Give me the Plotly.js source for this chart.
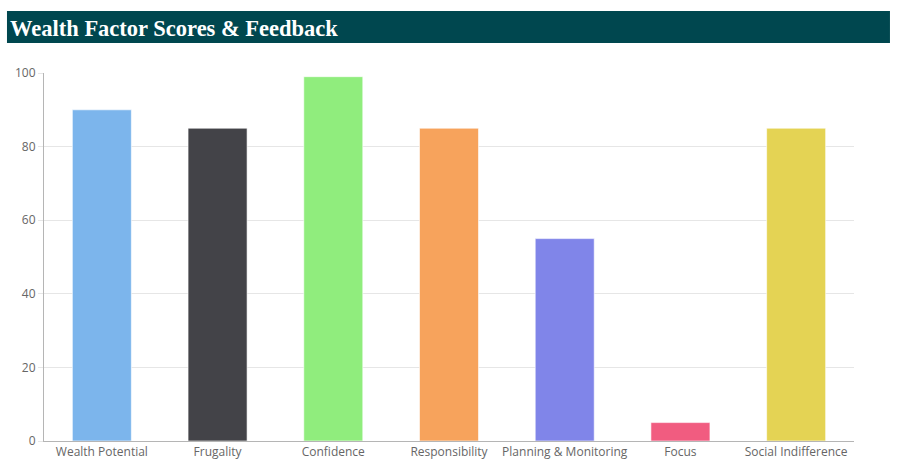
<!DOCTYPE html>
<html>
<head>
<meta charset="utf-8">
<script src="https://cdn.plot.ly/plotly-3.0.1.min.js"></script>
<style>html,body{margin:0;padding:0;background:#fff;}#chart{width:899px;height:467px;}</style>
</head>
<body>
<div id="chart"></div>
<script>
const categories = ["Wealth Potential", "Frugality", "Confidence", "Responsibility", "Planning & Monitoring", "Focus", "Social Indifference"];
const scores = [90, 85, 99, 85, 55, 5, 85];
const barColors = ["#7CB5EC", "#434348", "#90ED7D", "#F7A35C", "#8085E9", "#F15C80", "#E4D354"];
const yTicks = [0, 20, 40, 60, 80, 100];
const titleText = "Wealth Factor Scores & Feedback";

const trace = {
  type: "bar",
  x: categories,
  y: scores,
  marker: {color: barColors, line: {color: "rgba(255,255,255,0.6)", width: 1}},
  hoverinfo: "x+y"
};

const layout = {
  width: 899, height: 467,
  margin: {l: 44, r: 45, t: 73, b: 26, pad: 0},
  paper_bgcolor: "#fff", plot_bgcolor: "#fff",
  showlegend: false,
  bargap: 0.49,
  font: {family: "Open Sans, sans-serif", size: 12, color: "#666"},
  xaxis: {
    type: "category",
    showline: true, linecolor: "#b5b5b5", linewidth: 1,
    showgrid: false, ticks: "", tickfont: {size: 12, color: "#666"},
    fixedrange: true
  },
  yaxis: {
    range: [0, 100], tickvals: yTicks,
    showline: true, linecolor: "#b5b5b5", linewidth: 1,
    showgrid: true, gridcolor: "#e6e6e6", gridwidth: 1,
    ticks: "outside", ticklen: 5, tickcolor: "#e6e6e6",
    tickfont: {size: 12, color: "#666"},
    zeroline: false, fixedrange: true
  },
  shapes: [{
    type: "rect", xref: "paper", yref: "paper",
    x0: -0.0457, x1: 1.0444, y0: 1.0815, y1: 1.1685,
    fillcolor: "#00474F", line: {width: 0}, layer: "below"
  }],
  annotations: [{
    xref: "paper", yref: "paper", x: -0.0445, y: 1.122,
    xanchor: "left", yanchor: "middle", showarrow: false,
    text: "<b>" + titleText + "</b>",
    font: {family: "Liberation Serif, Times New Roman, serif", size: 22.5, color: "#fff"}
  }]
};

Plotly.newPlot("chart", [trace], layout, {displayModeBar: false});
</script>
</body>
</html>
